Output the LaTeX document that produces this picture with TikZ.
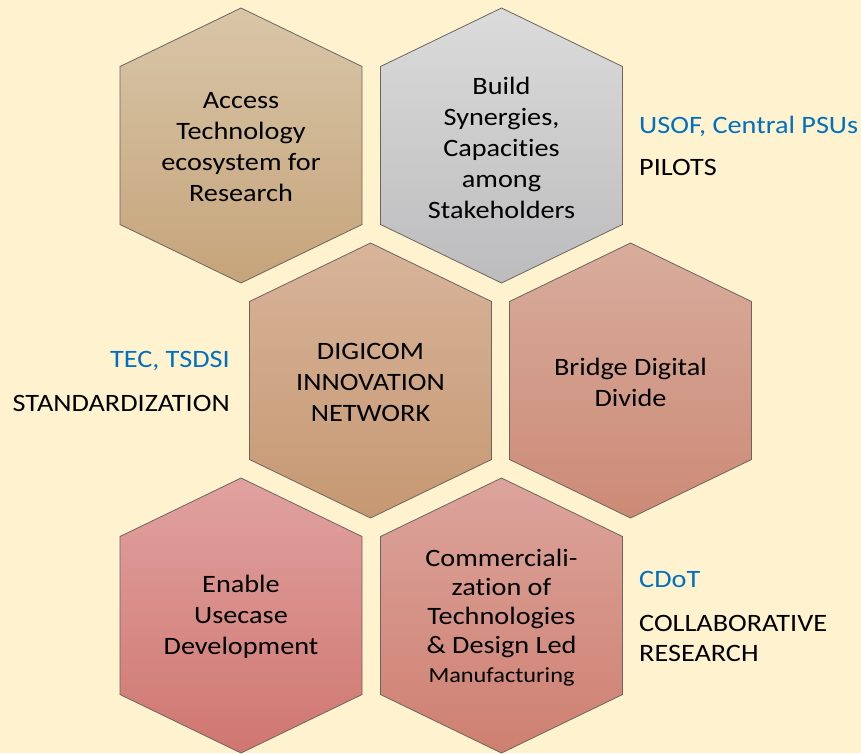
\documentclass[tikz,border=0pt]{standalone}
\usepackage{fontspec}
\setmainfont{Carlito}[FakeStretch=1.13, Ligatures=NoCommon]
\usepackage{tikz}

\definecolor{bgcream}{RGB}{255,242,206}
\definecolor{orgblue}{RGB}{0,112,192}
\definecolor{edgegray}{RGB}{110,100,95}

\tikzset{
  hexa/.style={draw=edgegray, line width=0.8pt},
  hextext/.style={align=center, font=\fontsize{25}{31}\selectfont, inner sep=0pt},
  sidetext/.style={font=\fontsize{25}{29}\selectfont, inner sep=0pt},
  hexcell/.pic={
    \path[hexa, pic actions] (0,-137.5) -- (121,-79) -- (121,79) -- (0,137.5)
      -- (-121,79) -- (-121,-79) -- cycle;
  }
}

\begin{document}
\begin{tikzpicture}[x=1pt, y=-1pt]
    \useasboundingbox[fill=bgcream] (0,0) rectangle (861,753);

    \pic[top color={rgb,255:red,216;green,198;blue,168}, bottom color={rgb,255:red,198;green,164;blue,122}] at (241,145.5) {hexcell};
    \pic[top color={rgb,255:red,219;green,219;blue,219}, bottom color={rgb,255:red,188;green,188;blue,190}] at (501.5,145.5) {hexcell};
    \pic[top color={rgb,255:red,216;green,180;blue,154}, bottom color={rgb,255:red,198;green,152;blue,114}] at (370.5,380.5) {hexcell};
    \pic[top color={rgb,255:red,216;green,172;blue,156}, bottom color={rgb,255:red,204;green,138;blue,118}] at (630.5,380.5) {hexcell};
    \pic[top color={rgb,255:red,224;green,162;blue,160}, bottom color={rgb,255:red,208;green,118;blue,112}] at (241,615.5) {hexcell};
    \pic[top color={rgb,255:red,220;green,164;blue,156}, bottom color={rgb,255:red,206;green,128;blue,112}] at (501.5,615.5) {hexcell};

    \node[hextext] (acc) at (241,147) {Access\\Technology\\ecosystem for\\Research};
    \node[hextext] (syn) at (501.5,147.5) {Build\\Synergies,\\Capacities\\among\\Stakeholders};
    \node[hextext] (dig) at (370.5,382) {DIGICOM\\INNOVATION\\NETWORK};
    \node[hextext] (brd) at (630.5,382) {Bridge Digital\\Divide};
    \node[hextext] (use) at (241,617) {Enable\\Usecase\\Development};
    \node[hextext, font=\fontsize{25}{29}\selectfont] (com) at (501.5,618) {Commerciali-\\zation of\\Technologies\\\& Design Led\\{\fontsize{21.5}{28}\selectfont Manufacturing}};

    \node[sidetext, text=orgblue, anchor=base west] (usof) at (639,133) {USOF, Central PSUs};
    \node[sidetext, anchor=base west] (pil) at (639,175) {PILOTS};
    \node[sidetext, text=orgblue, anchor=base east] (tec) at (230,367) {TEC, TSDSI};
    \node[sidetext, anchor=base east] (std) at (230,411) {STANDARDIZATION};
    \node[sidetext, text=orgblue, anchor=base west] (cdot) at (639,587) {CDoT};
    \node[sidetext, anchor=base west] (colres) at (639,631) {COLLABORATIVE};
    \node[sidetext, anchor=base west] (res) at (639,661) {RESEARCH};
\end{tikzpicture}
\end{document}
